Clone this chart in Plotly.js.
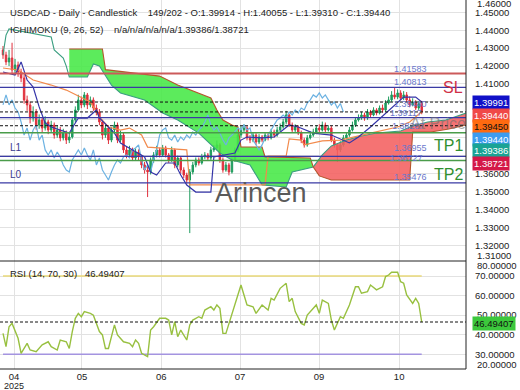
<!DOCTYPE html>
<html><head><meta charset="utf-8">
<script src="https://cdn.plot.ly/plotly-3.0.1.min.js"></script>
<style>html,body{margin:0;padding:0;background:#fff}#chart{width:520px;height:390px}</style>
</head><body><div id="chart"></div>
<script>
// ---------- DATA ----------
const opens = [1.4290,1.4262,1.4223,1.4245,1.4178,1.4206,1.4167,1.4133,1.4011,1.3983,
1.3910,1.3944,1.3871,1.3899,1.3854,1.3888,1.3843,1.3871,1.3815,1.3843,
1.3799,1.3827,1.3787,1.3804,1.3899,1.3955,1.4011,1.3983,1.4039,1.3983,
1.4011,1.3966,1.3944,1.3888,1.3815,1.3854,1.3787,1.3843,1.3871,1.3787,
1.3815,1.3732,1.3704,1.3732,1.3687,1.3720,1.3693,1.3648,1.3620,1.3609,
1.3676,1.3704,1.3732,1.3704,1.3743,1.3704,1.3676,1.3732,1.3648,1.3687,
1.3620,1.3592,1.3564,1.3609,1.3648,1.3676,1.3659,1.3693,1.3704,1.3687,
1.3732,1.3743,1.3760,1.3676,1.3620,1.3648,1.3609,1.3676,1.3732,1.3815,
1.3843,1.3854,1.3799,1.3787,1.3815,1.3776,1.3804,1.3787,1.3815,1.3799,
1.3832,1.3815,1.3843,1.3860,1.3888,1.3927,1.3871,1.3843,1.3860,1.3827,
1.3787,1.3760,1.3799,1.3815,1.3832,1.3854,1.3843,1.3871,1.3843,1.3854,
1.3787,1.3760,1.3732,1.3760,1.3799,1.3815,1.3843,1.3871,1.3899,1.3910,
1.3927,1.3910,1.3944,1.3927,1.3955,1.3938,1.3966,1.3955,1.3994,1.4011,
1.4039,1.4027,1.4050,1.4022,1.4039,1.4011,1.3983,1.3999,1.3966,1.39914];
const highs = [1.4312,1.4280,1.4290,1.4330,1.4240,1.4225,1.4185,1.4150,1.4035,1.4000,
1.3975,1.3960,1.3930,1.3915,1.3920,1.3900,1.3895,1.3885,1.3870,1.3860,
1.3850,1.3840,1.3830,1.3915,1.3975,1.4040,1.4030,1.4055,1.4050,1.4030,
1.4025,1.3985,1.3960,1.3900,1.3875,1.3870,1.3860,1.3890,1.3885,1.3840,
1.3830,1.3750,1.3755,1.3745,1.3740,1.3735,1.3705,1.3665,1.3640,1.3690,
1.3720,1.3755,1.3745,1.3760,1.3755,1.3715,1.3750,1.3740,1.3700,1.3695,
1.3635,1.3605,1.3625,1.3665,1.3690,1.3690,1.3710,1.3720,1.3715,1.3750,
1.3760,1.3785,1.3770,1.3690,1.3665,1.3660,1.3690,1.3745,1.3830,1.3865,
1.3875,1.3865,1.3815,1.3830,1.3825,1.3820,1.3815,1.3830,1.3825,1.3850,
1.3845,1.3860,1.3880,1.3905,1.3950,1.3935,1.3885,1.3875,1.3870,1.3840,
1.3800,1.3815,1.3835,1.3850,1.3870,1.3875,1.3890,1.3885,1.3870,1.3865,
1.3800,1.3770,1.3780,1.3815,1.3830,1.3860,1.3890,1.3915,1.3930,1.3945,
1.3940,1.3960,1.3955,1.3970,1.3965,1.3980,1.3985,1.4010,1.4030,1.4060,
1.4081,1.4070,1.4065,1.4060,1.4055,1.4030,1.4020,1.4010,1.4005,1.40055];
const lows = [1.4240,1.4205,1.4200,1.4160,1.4150,1.4140,1.4110,1.3990,1.3950,1.3880,
1.3890,1.3845,1.3850,1.3830,1.3840,1.3820,1.3830,1.3795,1.3800,1.3780,
1.3785,1.3765,1.3770,1.3795,1.3885,1.3945,1.3965,1.3970,1.3960,1.3970,
1.3950,1.3925,1.3870,1.3790,1.3800,1.3765,1.3775,1.3830,1.3770,1.3775,
1.3715,1.3685,1.3690,1.3670,1.3675,1.3675,1.3630,1.3600,1.3469,1.3595,
1.3660,1.3690,1.3690,1.3695,1.3690,1.3660,1.3665,1.3630,1.3635,1.3600,
1.3575,1.3545,1.3268,1.3595,1.3635,1.3645,1.3650,1.3680,1.3670,1.3675,
1.3720,1.3730,1.3660,1.3605,1.3610,1.3590,1.3600,1.3665,1.3720,1.3800,
1.3830,1.3785,1.3770,1.3775,1.3760,1.3765,1.3775,1.3780,1.3785,1.3790,
1.3800,1.3805,1.3830,1.3850,1.3875,1.3860,1.3830,1.3830,1.3815,1.3770,
1.3745,1.3750,1.3790,1.3805,1.3820,1.3830,1.3835,1.3830,1.3835,1.3775,
1.3745,1.3665,1.3720,1.3750,1.3790,1.3805,1.3835,1.3860,1.3890,1.3900,
1.3895,1.3900,1.3915,1.3920,1.3925,1.3930,1.3940,1.3945,1.3985,1.4000,
1.4015,1.4015,1.4010,1.4010,1.4000,1.3970,1.3975,1.3955,1.3955,1.39310];
const closes = [1.4262,1.4223,1.4245,1.4178,1.4206,1.4167,1.4133,1.4011,1.3983,1.3910,
1.3944,1.3871,1.3899,1.3854,1.3888,1.3843,1.3871,1.3815,1.3843,1.3799,
1.3827,1.3787,1.3804,1.3899,1.3955,1.4011,1.3983,1.4039,1.3983,1.4011,
1.3966,1.3944,1.3888,1.3815,1.3854,1.3787,1.3843,1.3871,1.3787,1.3815,
1.3732,1.3704,1.3732,1.3687,1.3720,1.3693,1.3648,1.3620,1.3609,1.3676,
1.3704,1.3732,1.3704,1.3743,1.3704,1.3676,1.3732,1.3648,1.3687,1.3620,
1.3592,1.3564,1.3609,1.3648,1.3676,1.3659,1.3693,1.3704,1.3687,1.3732,
1.3743,1.3760,1.3676,1.3620,1.3648,1.3609,1.3676,1.3732,1.3815,1.3843,
1.3854,1.3799,1.3787,1.3815,1.3776,1.3804,1.3787,1.3815,1.3799,1.3832,
1.3815,1.3843,1.3860,1.3888,1.3927,1.3871,1.3843,1.3860,1.3827,1.3787,
1.3760,1.3799,1.3815,1.3832,1.3854,1.3843,1.3871,1.3843,1.3854,1.3787,
1.3760,1.3732,1.3760,1.3799,1.3815,1.3843,1.3871,1.3899,1.3910,1.3927,
1.3910,1.3944,1.3927,1.3955,1.3938,1.3966,1.3955,1.3994,1.4011,1.4039,
1.4027,1.4050,1.4022,1.4039,1.4011,1.3983,1.3999,1.3966,1.3991,1.39440];

// Ichimoku lines (bar index, price)
const tenkanIdx = [0,4,6,8,10,12,14,16,19,22,23,25,28,31,32,35,37,39,42,47,49,51,54,57,59,61,64,69,70,77,79,81,86,90,95,98,103,109,115,118,122,127,130,133,137,139];
const tenkanVal = [1.4167,1.4150,1.4223,1.4122,1.4083,1.3972,1.3882,1.3860,1.3843,1.3826,1.3854,1.3910,1.3910,1.3955,1.3910,1.3860,1.3826,1.3771,1.3743,1.3693,1.3609,1.3592,1.3659,1.3659,1.3592,1.3536,1.3497,1.3497,1.3693,1.3715,1.3787,1.3804,1.3799,1.3804,1.3871,1.3860,1.3826,1.3815,1.3771,1.3804,1.3860,1.3938,1.3983,1.4027,1.4027,1.39991];
const kijunIdx = [0,5,10,16,21,26,29,32,35,39,42,46,48,61,62,87,88,94,95,99,100,106,112,122,127,131,135,139];
const kijunVal = [1.4189,1.4178,1.4122,1.4094,1.4066,1.4022,1.3999,1.3916,1.3860,1.3843,1.3854,1.3815,1.3748,1.3732,1.3537,1.3537,1.3698,1.3698,1.3793,1.3787,1.3760,1.3782,1.3787,1.3826,1.3843,1.3860,1.3888,1.39450];
const spanAIdx = [0,1,2,9,16,17,20,21,22,28,30,32,34,36,39,47,53,58,65,72,76,82,86,94,96,103,106,109,114,119,124,129,132,136,141,147,154];
const spanAVal = [1.4262,1.4373,1.4407,1.4384,1.4362,1.4290,1.4245,1.4200,1.4139,1.4139,1.4212,1.4200,1.4150,1.4094,1.4050,1.4011,1.3938,1.3899,1.3826,1.3715,1.3676,1.3648,1.3537,1.3525,1.3609,1.3637,1.3704,1.3754,1.3787,1.3810,1.3826,1.3832,1.3838,1.3866,1.3888,1.3899,1.39386];
const spanBIdx = [22,33,34,52,58,69,71,73,76,78,79,86,87,102,103,105,109,135,136,142,148,154];
const spanBVal = [1.4295,1.4295,1.4180,1.4144,1.4094,1.4022,1.3955,1.3899,1.3871,1.3860,1.3748,1.3748,1.3693,1.3687,1.3637,1.3587,1.3564,1.3564,1.3832,1.3832,1.3849,1.38721];
const chikouShift = 26;

// RSI (14)
const rsiIdx = [0,1,2,3,5,6,8,9,11,13,15,16,18,19,21,22,23,24,25,26,27,29,30,32,33,34,35,37,38,40,42,43,44,45,46,48,49,50,52,54,55,56,57,58,59,61,62,63,65,66,67,69,70,71,72,73,74,76,78,79,80,81,83,84,86,88,89,90,92,94,95,96,97,99,100,101,104,105,106,107,108,109,110,112,113,115,117,118,119,121,122,124,126,127,128,129,131,132,133,134,136,137,138,139];
const rsiVal = [40.7,33.9,44.1,45.8,38.2,30.5,35.6,32.2,31.3,34.8,36.4,33.9,32.2,37.3,36.4,33.0,41.6,48.4,50.9,49.2,51.8,50.9,50.0,41.6,39.9,33.0,33.0,45.0,39.9,36.4,35.6,33.9,37.3,35.6,30.5,28.8,42.4,44.1,48.4,48.4,47.5,39.9,46.7,39.0,42.4,37.3,45.0,47.5,49.2,48.4,52.6,54.3,52.6,55.2,53.5,40.7,40.7,50.9,60.3,65.4,60.3,55.2,54.3,50.9,55.2,52.6,58.6,57.7,63.7,66.3,56.9,58.6,51.8,45.8,45.0,50.0,55.2,50.9,57.7,56.9,56.0,47.5,42.4,49.2,48.4,55.2,64.5,64.5,61.2,62.0,65.4,62.9,64.5,69.7,70.5,71.9,71.9,67.1,66.3,60.3,56.0,58.6,56.0,46.49407];
const rsiUpper = 70, rsiLower = 30, rsiLast = 46.49407;

// Horizontal levels
const levelPrices = [1.41583, 1.40813, 1.39991, 1.39440, 1.39117, 1.38670, 1.38281, 1.36955, 1.36727, 1.35476];
const levelLabels = ['1.41583','1.40813','','1.39440','1.39117','','1.38287','1.36955','1.36727','1.35476'];
const levelKinds  = ['sl','blue','dash','dash','blue','dash','green','blue','green','blue'];

// Right side value boxes
const boxValues = ['1.39991','1.39440','1.39450','1.39440','1.39386','1.38721'];
const boxColors = ['#1010c8','#f04848','#ff6a10','#3c9cf0','#1aa394','#d41848'];
const boxText   = ['#fff','#fff','#111','#fff','#fff','#fff'];

// Axes
const monthTickIdx  = [3.65, 26.2, 52.5, 78.7, 104.9, 131.5];
const monthTickText = ['04','05','06','07','09','10'];
const yearText = '2025';
const priceTicks = [1.32,1.33,1.34,1.35,1.36,1.37,1.38,1.39,1.40,1.41,1.42,1.43,1.44,1.45];
const priceTickText = ['1.32000','1.33000','1.34000','1.35000','1.36000','','','','','1.41000','1.42000','1.43000','1.44000','1.45000'];
const rsiTicks = [30,40,50,60,70];
const rsiTickText = ['30.00000','40.00000','','60.00000','70.00000'];

// ---------- BUILD ----------
const barIdx = closes.map((_, i) => i);
const PR = 466/520;
const py = px => 1 - px/390;
const pxX = px => px/520;

function polyBetween(lo, hi) {
  const ax = [], ay = [];
  spanAIdx.forEach((x, k) => { if (x >= lo && x <= hi) { ax.push(x); ay.push(spanAVal[k]); } });
  const bx = [], by = [];
  spanBIdx.forEach((x, k) => { if (x >= lo && x <= hi) { bx.push(x); by.push(spanBVal[k]); } });
  return { x: ax.concat(bx.reverse()), y: ay.concat(by.reverse()) };
}
const gPoly = polyBetween(22, 103);
const rPoly = polyBetween(103, 154);

const chX = [], chY = [];
for (let i = chikouShift; i < closes.length; i++) { chX.push(i - chikouShift); chY.push(closes[i]); }

const traces = [
  { type:'scatter', x:gPoly.x, y:gPoly.y, fill:'toself', fillcolor:'rgba(70,232,70,0.88)', line:{width:0}, mode:'lines', hoverinfo:'skip', xaxis:'x', yaxis:'y' },
  { type:'scatter', x:rPoly.x, y:rPoly.y, fill:'toself', fillcolor:'rgba(244,96,96,0.88)', line:{width:0}, mode:'lines', hoverinfo:'skip', xaxis:'x', yaxis:'y' },
  { type:'scatter', x:spanAIdx, y:spanAVal, mode:'lines', line:{color:'#3a9e80', width:1.1}, xaxis:'x', yaxis:'y' },
  { type:'scatter', x:spanBIdx, y:spanBVal, mode:'lines', line:{color:'#b4552c', width:1.1}, xaxis:'x', yaxis:'y' },
  { type:'scatter', x:chX, y:chY, mode:'lines', line:{color:'#6cb2e2', width:1.2}, xaxis:'x', yaxis:'y' },
  { type:'scatter', x:kijunIdx, y:kijunVal, mode:'lines', line:{color:'#f28a4c', width:1.2}, xaxis:'x', yaxis:'y' },
  { type:'candlestick', x:barIdx, open:opens, high:highs, low:lows, close:closes,
    increasing:{line:{color:'#1e9c5e', width:1}, fillcolor:'#1e9c5e'},
    decreasing:{line:{color:'#e0303c', width:1}, fillcolor:'#e0303c'},
    whiskerwidth:0, xaxis:'x', yaxis:'y', hoverinfo:'skip' },
  { type:'scatter', x:tenkanIdx, y:tenkanVal, mode:'lines', line:{color:'#3434a8', width:1.2}, xaxis:'x', yaxis:'y' },
  { type:'scatter', x:[0,139], y:[rsiUpper,rsiUpper], mode:'lines', line:{color:'#e8d878', width:1.5}, xaxis:'x', yaxis:'y2' },
  { type:'scatter', x:[0,139], y:[rsiLower,rsiLower], mode:'lines', line:{color:'#a494e0', width:1.5}, xaxis:'x', yaxis:'y2' },
  { type:'scatter', x:rsiIdx, y:rsiVal, mode:'lines', line:{color:'#98c040', width:1.4}, xaxis:'x', yaxis:'y2' }
];

const shapes = [];
const kindStyle = {
  sl:{color:'#cc5a5a', width:2, dash:'solid'},
  blue:{color:'#3a3aa4', width:1.3, dash:'solid'},
  green:{color:'#4a9c4a', width:1.5, dash:'solid'},
  dash:{color:'#111', width:1, dash:'3px,2px'}
};
levelPrices.forEach((p, k) => {
  shapes.push({type:'line', xref:'paper', yref:'y', x0:0, x1:PR, y0:p, y1:p, line:kindStyle[levelKinds[k]], layer:'above'});
});
shapes.push({type:'line', xref:'paper', yref:'y2', x0:0, x1:PR, y0:rsiLast, y1:rsiLast, line:{color:'#111', width:1, dash:'3px,2px'}});
shapes.push({type:'line', xref:'paper', yref:'paper', x0:0, x1:PR, y0:py(261), y1:py(261), line:{color:'#222', width:1}});
shapes.push({type:'line', xref:'paper', yref:'paper', x0:0, x1:PR, y0:py(369), y1:py(369), line:{color:'#222', width:1}});
shapes.push({type:'line', xref:'paper', yref:'paper', x0:PR, x1:PR, y0:py(369), y1:1, line:{color:'#222', width:1}});

const ann = [];
const F = 'Liberation Sans, Arial, sans-serif';
function txt(x, y, text, opts) {
  ann.push(Object.assign({xref:'paper', yref:'paper', x:pxX(x), y:py(y), xanchor:'left', yanchor:'middle', text:text, showarrow:false,
    font:{family:F, size:9.5, color:'#222'}}, opts || {}));
}
const nb = '\u00A0';
txt(8, 12, 'USDCAD - Daily - Candlestick' + nb.repeat(4) + '149/202 - O:1.39914 - H:1.40055 - L:1.39310 - C:1.39440');
txt(8, 30, 'ICHIMOKU (9, 26, 52)' + nb.repeat(4) + 'n/a/n/a/n/a/n/a/1.39386/1.38721');
txt(8, 273, 'RSI (14, 70, 30)' + nb.repeat(3) + '46.49407');
const labelYpx = [69, 82, 0, 104, 113, 0, 126, 148, 158, 177];
const labelXpx = [392, 392, 0, 392, 388, 0, 390, 392, 388, 392];
levelLabels.forEach((t, k) => { if (t) txt(labelXpx[k], labelYpx[k], t, {font:{family:F, size:9, color:'#6a78cc'}}); });
txt(8, 147, 'L1', {font:{family:F, size:10, color:'#3a3a90'}});
txt(8, 174, 'L0', {font:{family:F, size:10, color:'#3a3a90'}});
txt(408, 124, 'At Price', {font:{family:F, size:16, color:'rgba(110,110,110,0.6)'}});
txt(441, 87, 'SL', {font:{family:F, size:16, color:'#d03048'}});
txt(432, 145, 'TP1', {font:{family:F, size:16, color:'#2f8f2f'}});
txt(432, 174, 'TP2', {font:{family:F, size:16, color:'#2f8f2f'}});
txt(213, 193, 'Arincen', {font:{family:F, size:27, color:'#5a5a5a'}});
ann.push({xref:'paper', yref:'paper', x:pxX(14), y:py(385.5), xanchor:'center', yanchor:'middle', text:yearText, showarrow:false, font:{family:F, size:9, color:'#222'}});
txt(475, 4, '1.46000');
txt(475, 255, '1.31000');
txt(475, 265, '80.00000');
txt(475, 364, '20.00000');
const boxY = [103, 115, 127, 139, 151, 163];
boxValues.forEach((v, k) => {
  txt(472, boxY[k], v, {bgcolor:boxColors[k], borderpad:1, font:{family:F, size:9.5, color:boxText[k]}});
});
txt(475, 314, '50.00000');
txt(472, 323, rsiLast.toFixed(5), {bgcolor:'#3cc83c', borderpad:1, font:{family:F, size:9.5, color:'#111'}});

const layout = {
  width:520, height:390, margin:{l:0, r:0, t:0, b:0},
  paper_bgcolor:'#fff', plot_bgcolor:'#fff', showlegend:false,
  font:{family:F, size:9.5, color:'#222'},
  xaxis:{domain:[0, PR], range:[-1, 153.7], anchor:'y2', tickvals:monthTickIdx, ticktext:monthTickText,
         showgrid:true, gridcolor:'#e2e2e2', zeroline:false, showline:false, ticks:'',
         rangeslider:{visible:false}, tickfont:{family:F, size:9.5, color:'#222'}},
  yaxis:{domain:[py(261), 1], range:[1.31122, 1.45686], side:'right', anchor:'x', tickvals:priceTicks, ticktext:priceTickText,
         showgrid:true, gridcolor:'#e2e2e2', zeroline:false, ticks:'', ticklabelstandoff:8,
         tickfont:{family:F, size:9.5, color:'#222'}},
  yaxis2:{domain:[py(369), py(261)], range:[22.49, 77.66], side:'right', anchor:'x', tickvals:rsiTicks, ticktext:rsiTickText,
         showgrid:true, gridcolor:'#e2e2e2', zeroline:false, ticks:'', ticklabelstandoff:8,
         tickfont:{family:F, size:9.5, color:'#222'}},
  shapes:shapes, annotations:ann
};
Plotly.newPlot('chart', traces, layout, {staticPlot:true, displayModeBar:false});
</script></body></html>
